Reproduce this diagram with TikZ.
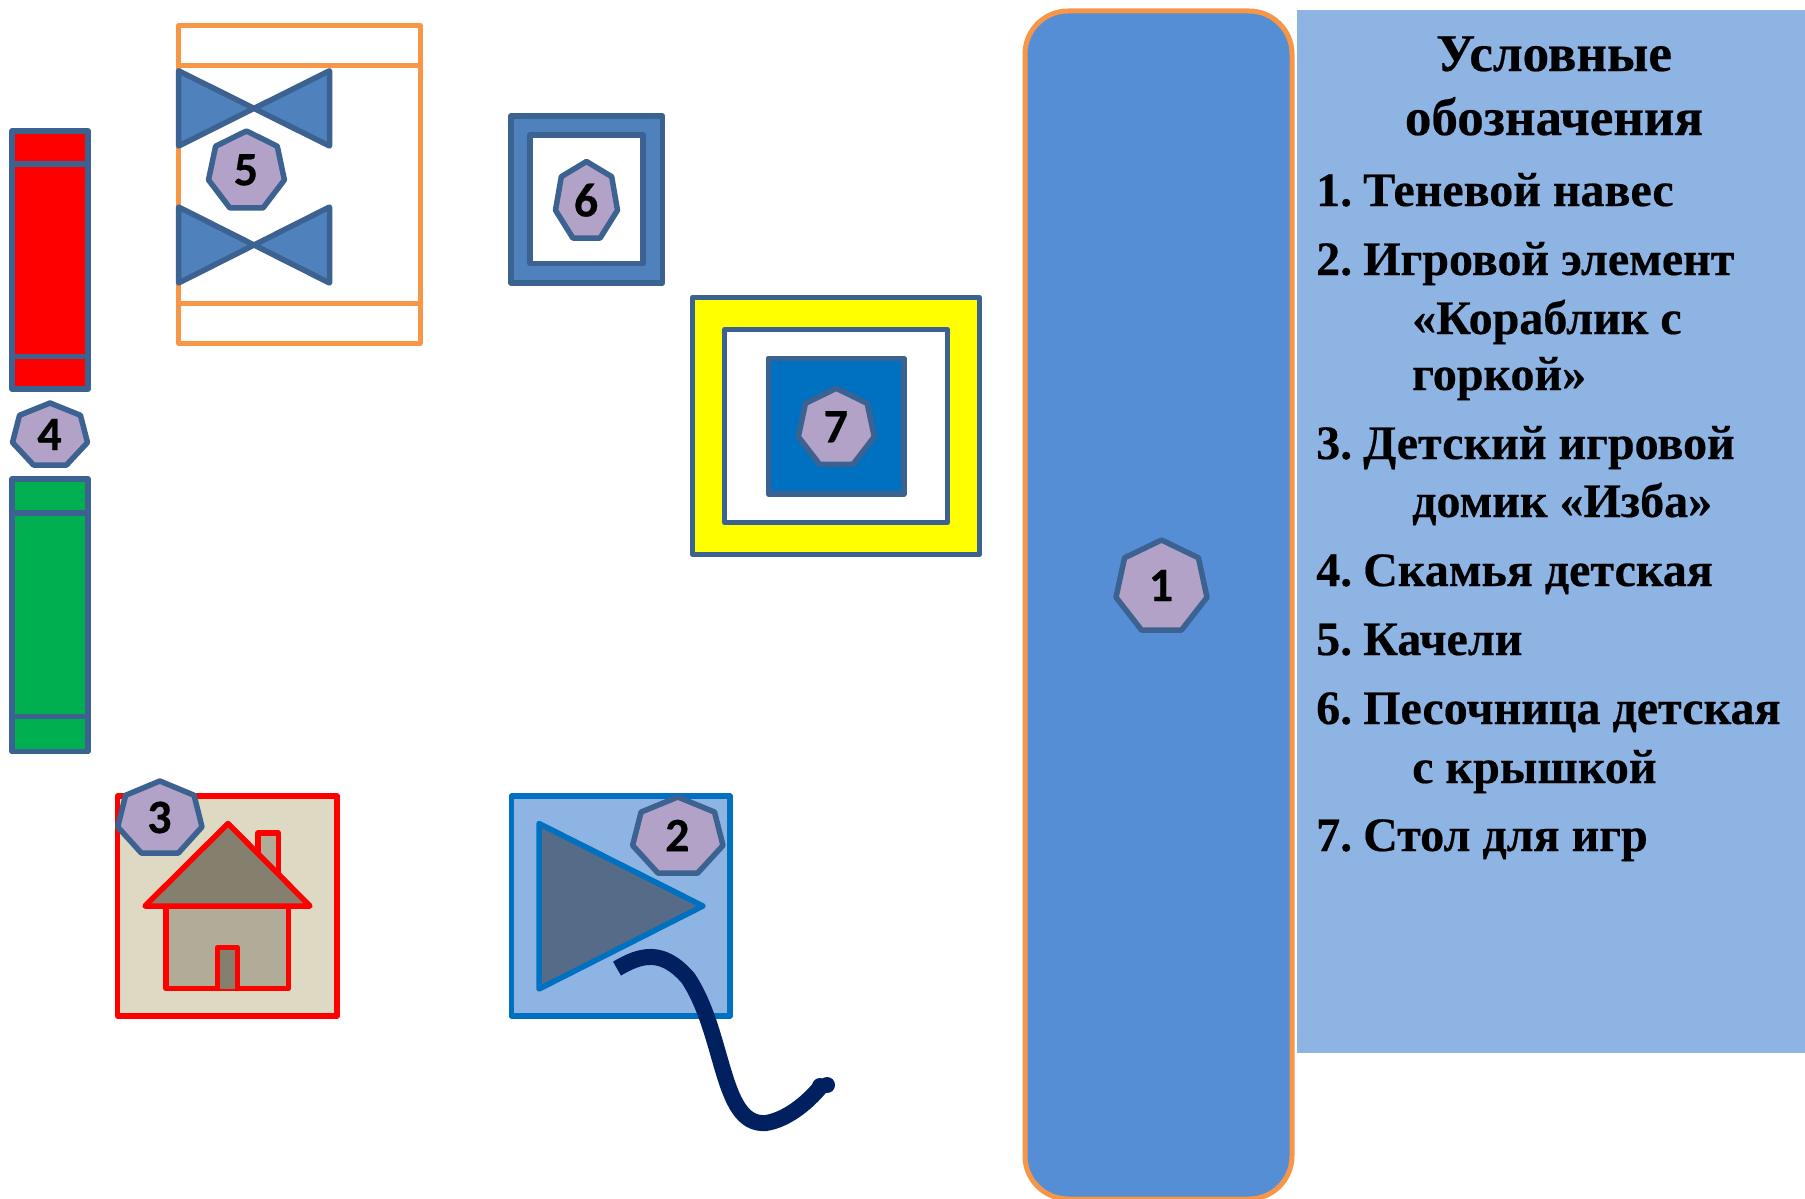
\documentclass[tikz,border=0pt]{standalone}
\usepackage{fontspec}
\setmainfont{Liberation Serif}[BoldFeatures={FakeBold=0.4}]
\newfontfamily\numfont{Carlito}[BoldFeatures={FakeBold=0.5}]
\definecolor{hfill}{HTML}{B2A2C7}
\definecolor{hline}{HTML}{3B6291}
\definecolor{bfill}{HTML}{4F81BD}
\definecolor{orangeline}{HTML}{F79646}
\definecolor{lightblue}{HTML}{8EB4E3}
\definecolor{midblue}{HTML}{558ED5}
\definecolor{strongblue}{HTML}{0070C0}
\definecolor{navy}{HTML}{002060}
\definecolor{benchgreen}{HTML}{00B050}
\definecolor{sand}{HTML}{DDD9C3}
\definecolor{wall}{HTML}{B0AC98}
\definecolor{roofc}{HTML}{857F6E}
\definecolor{slatec}{HTML}{566B87}
\definecolor{pureyellow}{HTML}{FFFF00}
\definecolor{purered}{HTML}{FF0000}
\tikzset{
  hline5/.style={draw=hline,line width=5.5pt,line join=round},
  orangeL/.style={draw=orangeline,line width=5pt,line join=round},
  redL/.style={draw=purered,line width=5.5pt,line join=round},
  blueL/.style={draw=strongblue,line width=5.5pt,line join=round},
  numlab/.style={font=\numfont\bfseries\fontsize{48}{48}\selectfont,text=black,inner sep=0pt},
  legend/.style={font=\bfseries\fontsize{48}{48}\selectfont,text=black,inner sep=0pt,anchor=base west},
  legendtitle/.style={font=\bfseries\fontsize{53}{53}\selectfont,text=black,inner sep=0pt,anchor=base},
}
\newcommand{\hepta}[6]{%
  \path[fill=hfill,hline5]
   ({#2+0.5*(#4-#2)},#3)
   -- ({#2+0.906*(#4-#2)},{#3+0.198*(#5-#3)})
   -- (#4,{#3+0.637*(#5-#3)})
   -- ({#2+0.72*(#4-#2)},#5)
   -- ({#2+0.28*(#4-#2)},#5)
   -- (#2,{#3+0.637*(#5-#3)})
   -- ({#2+0.094*(#4-#2)},{#3+0.198*(#5-#3)})
   -- cycle;
  \node[numlab] (#1) at ({(#2+#4)/2-0.5},{#3+0.5*(#5-#3)+0.5}) {#6};
}
\newcommand{\bow}[2]{%
  \path[fill=bfill,hline5] (178.6,#1) -- (329.5,#2) -- (329.5,#1) -- (178.6,#2) -- cycle;
}
\newcommand{\nm}[1]{#1.\hspace{-5pt} }
\begin{document}
\begin{tikzpicture}[x=1pt,y=-1pt]
\useasboundingbox (0,0) rectangle (1805,1199);
\fill[white] (0,0) rectangle (1805,1199);
% 1 canopy
\path[fill=midblue,orangeL,rounded corners=43pt] (1025,11) rectangle (1292,1199);
\hepta{n1}{1116}{540}{1207}{630}{1}
% legend
\fill[lightblue] (1297,10) rectangle (1805,1053);
\node[legendtitle] (t1) at (1554,71) {Условные};
\node[legendtitle] (t2) at (1554,135) {обозначения};
\node[legend] (l1) at (1316,206) {\nm{1}Теневой навес};
\node[legend] (l2) at (1316,275) {\nm{2}Игровой элемент};
\node[legend] (l2b) at (1412,334) {«Кораблик с};
\node[legend] (l2c) at (1412,390) {горкой»};
\node[legend] (l3) at (1316,459) {\nm{3}Детский игровой};
\node[legend] (l3b) at (1412,517) {домик «Изба»};
\node[legend] (l4) at (1316,586) {\nm{4}Скамья детская};
\node[legend] (l5) at (1316,655) {\nm{5}Качели};
\node[legend] (l6) at (1316,724) {\nm{6}Песочница детская};
\node[legend] (l6b) at (1412,783) {с крышкой};
\node[legend] (l7) at (1316,851) {\nm{7}Стол для игр};
% swings
\path[orangeL,fill=white] (178.6,25.6) rectangle (420,343);
\draw[orangeL] (178.6,65.4) -- (420,65.4);
\draw[orangeL] (178.6,303.5) -- (420,303.5);
\bow{70.8}{146}
\bow{207}{283}
\hepta{n5}{208.5}{131}{284.4}{207.8}{5}
% benches
\path[fill=purered,hline5] (12,131) rectangle (88,389);
\draw[hline5] (12,163.8) -- (88,163.8);
\draw[hline5] (12,356.7) -- (88,356.7);
\hepta{n4}{12.5}{403}{87.5}{465}{4}
\path[fill=benchgreen,hline5] (12,479) rectangle (88,751.6);
\draw[hline5] (12,513) -- (88,513);
\draw[hline5] (12,716.5) -- (88,716.5);
% sandbox
\path[fill=bfill,hline5] (511,116) rectangle (662.5,282.8);
\path[fill=white,hline5] (530,135) rectangle (643,263.3);
\hepta{n6}{555.5}{161.5}{617.5}{238}{6}
% table
\path[fill=pureyellow,hline5] (692.7,297.7) rectangle (979.3,554.3);
\path[fill=white,hline5] (724.7,329.7) rectangle (947.3,522.3);
\path[fill=strongblue,hline5] (768.3,358.3) rectangle (904,494);
\hepta{n7}{798.3}{388.3}{874.3}{464.3}{7}
% house
\path[fill=sand,redL] (117.7,796) rectangle (337,1016);
\path[fill=wall,redL] (258,873) -- (258,833) -- (278.4,833) -- (278.4,873);
\path[fill=wall,redL] (166,906) rectangle (288.7,988.5);
\path[fill=roofc,redL] (228,823.5) -- (310,906) -- (145,906) -- cycle;
\path[fill=roofc,redL] (217.6,988.5) -- (217.6,947.5) -- (237.7,947.5) -- (237.7,988.5);
\hepta{n3}{117.7}{781}{202}{853}{3}
% ship
\path[fill=lightblue,blueL] (511.5,796) rectangle (730,1016);
\path[fill=slatec,blueL] (539,823.5) -- (703,906) -- (539,989) -- cycle;
\draw[navy,line width=16pt,line cap=butt] (617,968.6) .. controls (640,955) and (662,948) .. (688,978) .. controls (706,1005) and (714,1040) .. (723,1070) .. controls (732,1100) and (742,1125) .. (766,1123) .. controls (785,1120) and (806,1105) .. (822,1085);
\fill[navy] (820,1086) circle (8);
\fill[navy] (827,1085) circle (8);
\hepta{n2}{632.6}{797}{723}{873}{2}
\end{tikzpicture}
\end{document}
